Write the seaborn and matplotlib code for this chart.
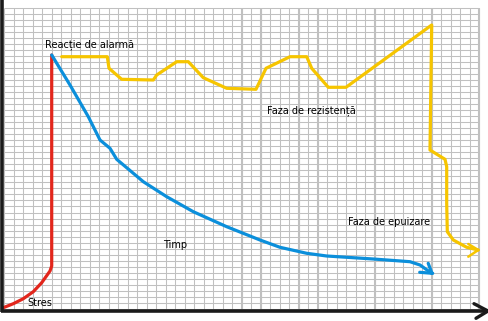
import numpy as np
import pandas as pd
import matplotlib
matplotlib.use("Agg")
import matplotlib.pyplot as plt
import seaborn as sns

# ---- data (time on x, level above the time axis on y) ----
stres_t = [3.3, 13.3, 23.3, 33.3, 41.7, 50, 51.7, 51.7]
stres_v = [2.3, 6.3, 11.3, 18.3, 27.3, 39, 44, 255]

alarma_t = [51.7, 70, 88.3, 100, 110, 116.7, 143.3, 166.7, 193.3, 226.7, 250,
            260, 280, 306.7, 326.7, 373.3, 410, 420, 431.7]
alarma_v = [255, 225, 193.3, 170, 161.7, 150.7, 128.3, 113.3, 98.3, 83.3, 74,
            70, 62.7, 56.7, 54, 51, 48.3, 45, 36.7]

rezist_t = [61.7, 107.3, 109, 121.7, 153.3, 156.7, 176.7, 188.3, 203.3, 226.7,
            256, 266, 290, 306.7, 311.7, 328.3, 346, 431.7, 430, 445, 446.7,
            446.7, 447.3, 453.3, 466.7, 478.3]
rezist_v = [253.3, 253.3, 241.7, 230.7, 230, 235, 248.3, 248.3, 232.3, 221.7,
            220.7, 241.7, 253.3, 253.3, 241.7, 222.7, 222.7, 285, 160, 150.7,
            143.3, 106.7, 78.3, 70, 62.7, 60]

labels = ["Reacție de alarmă", "Faza de rezistență", "Timp", "Faza de epuizare", "Stres"]
label_t = [45, 267, 163, 348, 27]
label_v = [265, 199, 65.5, 88, 6.5]

RED = "#e2261c"
BLUE = "#0b8fdb"
YELLOW = "#f6c500"
GRID = "#c0c0c0"

sns.set_theme(style="white")
plt.rcParams['font.family'] = ['DejaVu Sans']

fig = plt.figure(figsize=(4.89, 3.21), dpi=100)
ax = fig.add_axes([0, 0, 1, 1])
ax.set_xlim(0, 489)
ax.set_ylim(-11, 310)
ax.axis("off")

# grid paper
col_x = 4 + 9.5 * np.arange(51)
row_y = 302.5 - 6.03 * np.arange(51)
ax.vlines(col_x, row_y[-1], row_y[0], color=GRID, lw=0.75, zorder=1)
ax.hlines(row_y, col_x[0], col_x[-1], color=GRID, lw=0.75, zorder=1)
heavy = col_x[[25, 27, 31, 33, 39, 45, 50]]
ax.vlines(heavy, row_y[-1], row_y[0], color=GRID, lw=1.5, zorder=1)

# curves
lw = 2.3
sns.lineplot(x=stres_t, y=stres_v, sort=False, color=RED, lw=lw, ax=ax,
             estimator=None, zorder=3)
sns.lineplot(x=alarma_t, y=alarma_v, sort=False, color=BLUE, lw=lw, ax=ax,
             estimator=None, zorder=3)
sns.lineplot(x=rezist_t, y=rezist_v, sort=False, color=YELLOW, lw=lw, ax=ax,
             estimator=None, zorder=3)

# arrow heads drawn from end points
bt, bv = alarma_t[-1], alarma_v[-1]
ax.plot([bt - 12, bt + 1], [bv + 1, bv], color=BLUE, lw=lw, zorder=3)
ax.plot([bt - 3.5, bt + 0.3], [bv + 10, bv], color=BLUE, lw=lw, zorder=3)
yt, yv = rezist_t[-1], rezist_v[-1]
ax.plot([yt - 10, yt, yt - 10], [yv + 6, yv, yv - 6.7], color=YELLOW, lw=1.8, zorder=3)

# axes of the diagram
ax.plot([2.3, 2.3], [-2, 310], color="#1a1a1a", lw=2.6, zorder=4, solid_capstyle="butt")
ax.plot([1, 487], [-1, -1], color="#1a1a1a", lw=2.6, zorder=4, solid_capstyle="butt")
ax.plot([474, 488, 476], [6.3, -1, -8.3], color="#1a1a1a", lw=2.4, zorder=4)

# labels
for txt, t, v in zip(labels, label_t, label_v):
    ax.text(t, v, txt, fontsize=7, color="black", ha="left", va="center", zorder=5)

fig.savefig("out.png", dpi=100, facecolor="white")
